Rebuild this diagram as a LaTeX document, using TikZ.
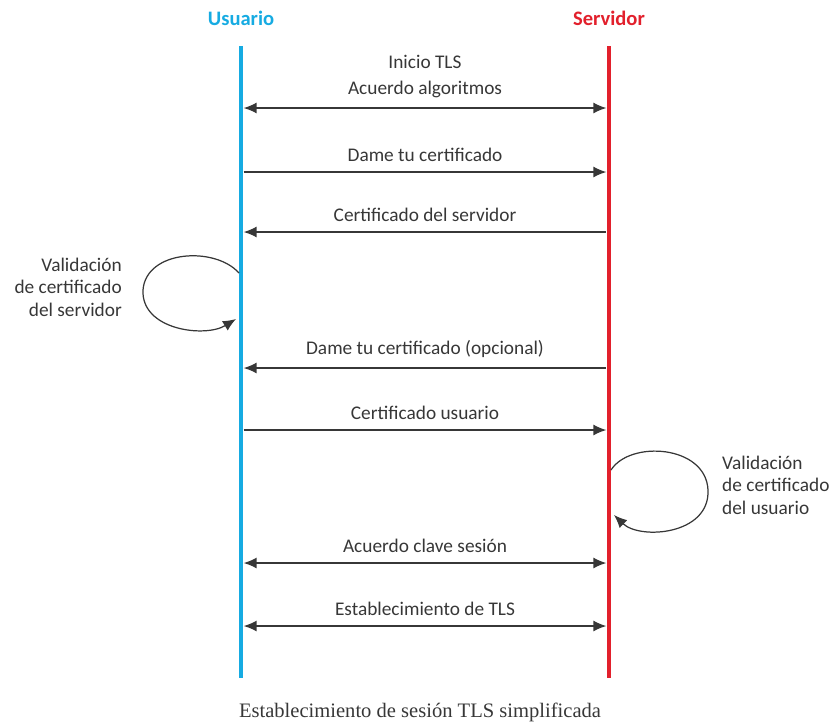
\documentclass[tikz,border=0pt]{standalone}
\usepackage{fontspec}
\setmainfont{Liberation Serif}
\setsansfont{Carlito}
\usetikzlibrary{arrows.meta}
\definecolor{UsrCyan}{RGB}{22,171,226}
\definecolor{SrvRed}{RGB}{226,32,44}
\definecolor{MsgGray}{RGB}{55,55,55}

\begin{document}
\begin{tikzpicture}[
    x=0.02cm,
    y=-0.02cm,
    font=\sffamily\fontsize{11}{15}\selectfont,
    >={Latex[length=2.6mm,width=2.2mm]},
    head/.style={
        font=\sffamily\bfseries\fontsize{11.7}{13}\selectfont
    },
    life/.style={
        line width=2.8pt
    },
    msg/.style={
        draw=MsgGray,
        line width=0.8pt,
        shorten >=1.5pt,
        shorten <=1.5pt
    },
    lbl/.style={
        above=2pt,
        text=MsgGray,
        align=center
    },
    selfloop/.style={
        ->,
        draw=MsgGray,
        line width=0.7pt
    },
    note/.style={
        text=MsgGray,
        font=\sffamily\fontsize{11}{12.8}\selectfont
    },
    both/.style={<->},
    tosrv/.style={->},
    tousr/.style={<-}
]

\useasboundingbox (0,0) rectangle (835,724);

% lifelines
\node[head, text=UsrCyan] (usr) at (241,18) {Usuario};
\node[head, text=SrvRed] (srv) at (609,18) {Servidor};
\coordinate (usrtop) at (241,46);
\coordinate (usrbot) at (241,678);
\coordinate (srvtop) at (609,46);
\coordinate (srvbot) at (609,678);
\draw[life, UsrCyan] (usrtop) -- (usrbot);
\draw[life, SrvRed] (srvtop) -- (srvbot);

% messages
\foreach \n/\y/\tip/\txt in {
    1/108/both/{Inicio TLS\\Acuerdo algoritmos},
    2/172/tosrv/{Dame tu certificado},
    3/232/tousr/{Certificado del servidor},
    4/368/tousr/{Dame tu certificado (opcional)},
    5/430/tosrv/{Certificado usuario},
    6/563/both/{Acuerdo clave sesión},
    7/626/both/{Establecimiento de TLS}} {
    \coordinate (u\n) at (241,\y);
    \coordinate (s\n) at (609,\y);
    \draw[msg, \tip] (u\n) -- node[lbl] {\txt} (s\n);
}

% validation loops
\coordinate (uv1) at (239,273);
\coordinate (uv2) at (236,319);
\draw[selfloop] (uv1) .. controls (215,246) and (146,250) .. (143,290)
    .. controls (141,330) and (205,338) .. (uv2);
\node[note, anchor=east, align=right] (vsrv) at (128,287)
    {Validación\\de certificado\\del servidor};

\coordinate (sv1) at (611,470);
\coordinate (sv2) at (614,515);
\draw[selfloop] (sv1) .. controls (630,440) and (706,445) .. (708,490)
    .. controls (710,535) and (640,540) .. (sv2);
\node[note, anchor=west, align=left] (vusr) at (716,485)
    {Validación\\de certificado\\del usuario};

\node[font=\rmfamily\fontsize{11.7}{13}\selectfont, text=MsgGray] (cap) at (420,712)
    {Establecimiento de sesión TLS simplificada};

\end{tikzpicture}
\end{document}
